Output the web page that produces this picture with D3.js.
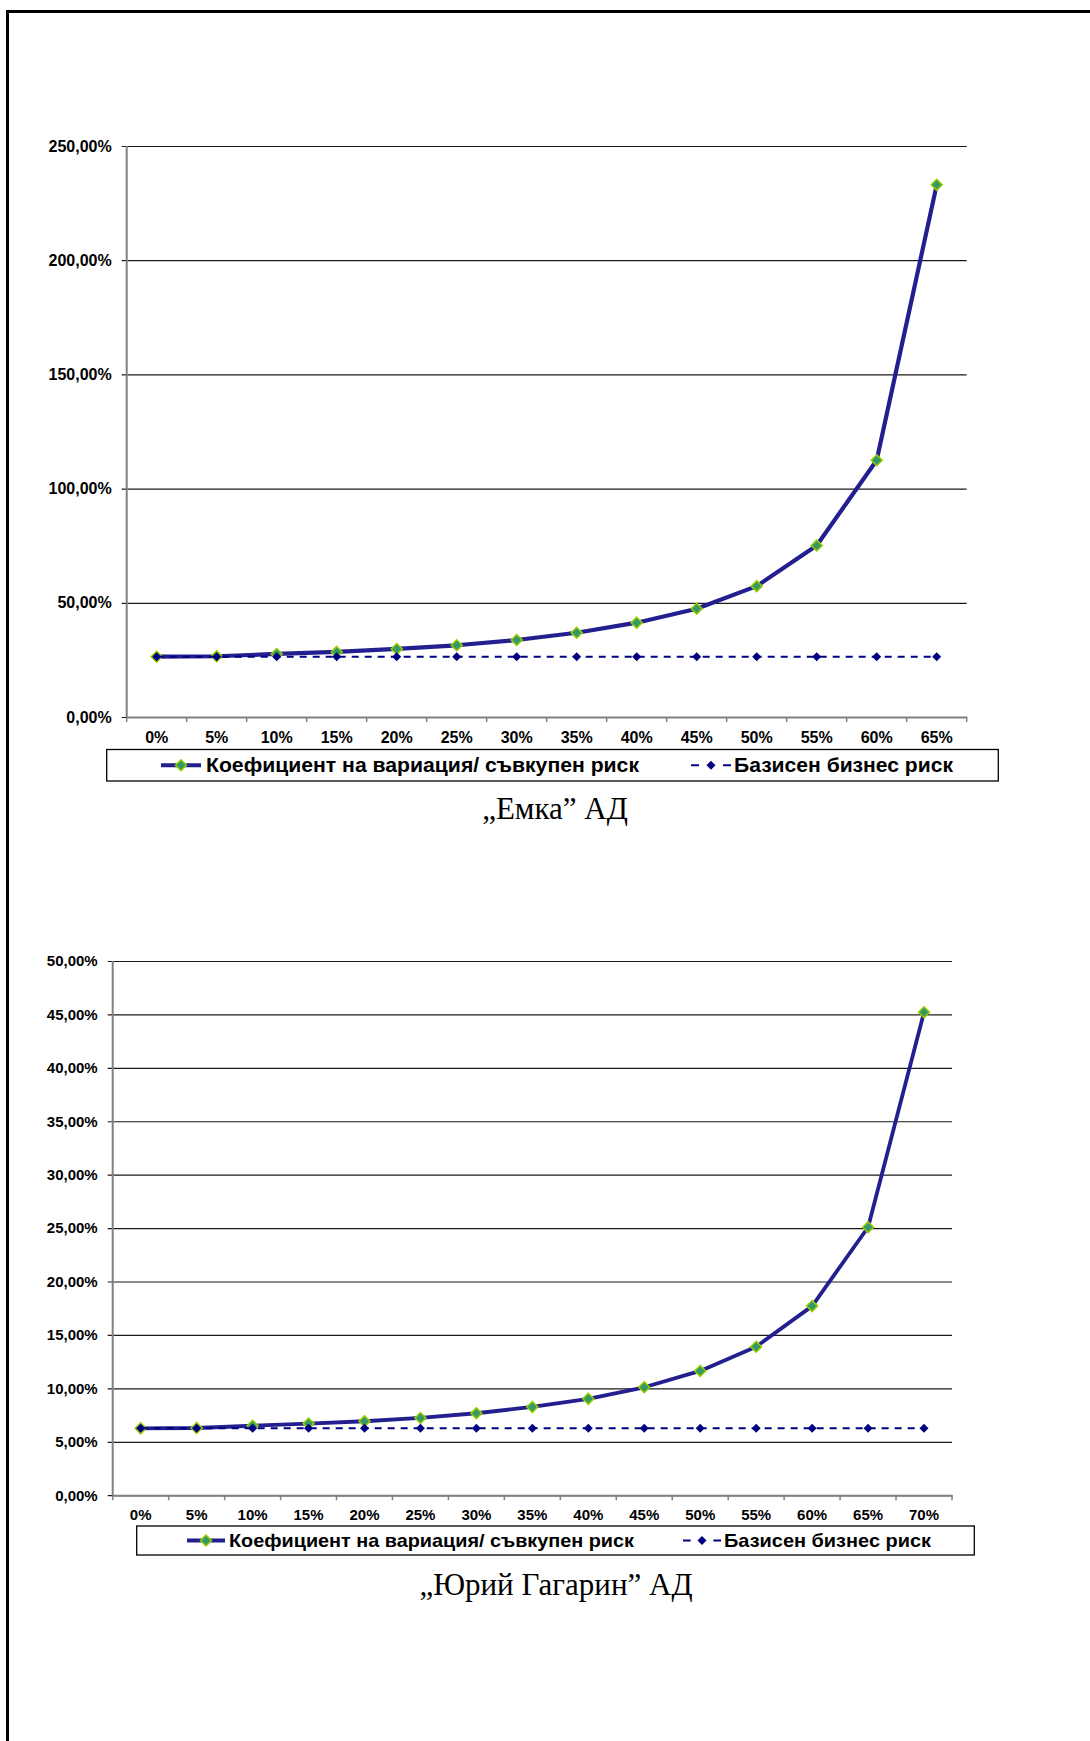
<!DOCTYPE html>
<html>
<head>
<meta charset="utf-8">
<script src="https://cdn.jsdelivr.net/npm/d3@7"></script>
<style>
  body { margin: 0; background: #fff; }
  svg { display: block; }
</style>
</head>
<body>
<svg id="page" width="1090" height="1741"></svg>
<script>
// data (values in %)
var catsEmka = ['0%', '5%', '10%', '15%', '20%', '25%', '30%', '35%', '40%', '45%', '50%', '55%', '60%', '65%'];
var coefEmka = [26.4, 26.6, 27.6, 28.5, 29.8, 31.4, 33.7, 36.9, 41.3, 47.4, 57.3, 75.1, 112.4, 233.0];
var basisEmka = [26.4, 26.4, 26.4, 26.4, 26.4, 26.4, 26.4, 26.4, 26.4, 26.4, 26.4, 26.4, 26.4, 26.4];
var ticksEmka = [0, 50, 100, 150, 200, 250];

var catsGagarin = ['0%', '5%', '10%', '15%', '20%', '25%', '30%', '35%', '40%', '45%', '50%', '55%', '60%', '65%', '70%'];
var coefGagarin = [6.26, 6.29, 6.5, 6.7, 6.92, 7.23, 7.67, 8.26, 9.02, 10.1, 11.63, 13.9, 17.7, 25.08, 45.2];
var basisGagarin = [6.26, 6.26, 6.26, 6.26, 6.26, 6.26, 6.26, 6.26, 6.26, 6.26, 6.26, 6.26, 6.26, 6.26, 6.26];
var ticksGagarin = [0, 5, 10, 15, 20, 25, 30, 35, 40, 45, 50];

var seriesNames = ['Коефициент на вариация/ съвкупен риск', 'Базисен бизнес риск'];

var locale = d3.formatLocale({ decimal: ',', thousands: ' ', grouping: [3], currency: ['', ''] });
var fmt = locale.format('.2f');

var svg = d3.select('#page');

// page frame (left and top rules)
svg.append('line').attr('x1', 7.5).attr('x2', 7.5).attr('y1', 10).attr('y2', 1741)
  .attr('stroke', '#000').attr('stroke-width', 3);
svg.append('line').attr('x1', 6).attr('x2', 1090).attr('y1', 11.5).attr('y2', 11.5)
  .attr('stroke', '#000').attr('stroke-width', 3);

function diamond(r) {
  return 'M0,' + (-r) + 'L' + r + ',0L0,' + r + 'L' + (-r) + ',0Z';
}

function drawChart(o) {
  var g = svg.append('g');

  var x = d3.scaleBand().domain(o.cats).range([o.left, o.right]);
  var y = d3.scaleLinear().domain([0, o.ticks[o.ticks.length - 1]]).range([o.bottom, o.top]);

  // gridlines + y labels
  var yAxis = d3.axisLeft(y).tickValues(o.ticks).tickSize(o.right - o.left + 5)
    .tickFormat(function (d) { return fmt(d) + '%'; }).tickPadding(10);
  var ya = g.append('g').attr('transform', 'translate(' + o.right + ',0)').call(yAxis);
  ya.select('.domain').remove();
  ya.selectAll('.tick line').attr('stroke', '#1a1a1a').attr('stroke-width', 1.2);
  ya.selectAll('.tick text')
    .attr('font-family', 'Liberation Sans, Arial, sans-serif')
    .attr('font-weight', 'bold').attr('font-size', o.fs).attr('fill', '#000');

  // vertical axis line
  g.append('line').attr('x1', o.left).attr('x2', o.left).attr('y1', o.top).attr('y2', o.bottom)
    .attr('stroke', '#808080').attr('stroke-width', 2);

  // category axis with ticks at band edges
  var xa = g.append('g').attr('transform', 'translate(0,' + o.bottom + ')')
    .call(d3.axisBottom(x).tickSize(0).tickPadding(o.labelPad));
  xa.select('.domain').attr('stroke', '#808080').attr('stroke-width', 2);
  xa.selectAll('.tick text')
    .attr('font-family', 'Liberation Sans, Arial, sans-serif')
    .attr('font-weight', 'bold').attr('font-size', o.fs).attr('fill', '#000');
  var edges = o.cats.map(function (c) { return x(c); }).concat([o.right]);
  g.selectAll('.xtick').data(edges).enter().append('line')
    .attr('x1', function (d) { return d; }).attr('x2', function (d) { return d; })
    .attr('y1', o.bottom).attr('y2', o.bottom + 5)
    .attr('stroke', '#808080').attr('stroke-width', 1.5);

  var cx = function (d, i) { return x(o.cats[i]) + x.bandwidth() / 2; };

  var line = d3.line().x(cx).y(function (d) { return y(d); });

  // total risk series
  g.append('path').datum(o.coef).attr('d', line)
    .attr('fill', 'none').attr('stroke', '#231f8f').attr('stroke-width', o.lw)
    .attr('stroke-linejoin', 'round');
  g.selectAll('.mc').data(o.coef).enter().append('path')
    .attr('d', diamond(5.5))
    .attr('transform', function (d, i) { return 'translate(' + cx(d, i) + ',' + y(d) + ')'; })
    .attr('fill', '#339966').attr('stroke', '#99cc00').attr('stroke-width', 1.5);

  // basic business risk series
  g.append('path').datum(o.basis).attr('d', line)
    .attr('fill', 'none').attr('stroke', '#000080').attr('stroke-width', 2)
    .attr('stroke-dasharray', '7,6');
  g.selectAll('.mb').data(o.basis).enter().append('path')
    .attr('d', diamond(4.5))
    .attr('transform', function (d, i) { return 'translate(' + cx(d, i) + ',' + y(d) + ')'; })
    .attr('fill', '#000080');

  // legend
  var lg = g.append('g');
  lg.append('rect').attr('x', o.leg.x0).attr('y', o.leg.y0)
    .attr('width', o.leg.x1 - o.leg.x0).attr('height', o.leg.y1 - o.leg.y0)
    .attr('fill', '#fff').attr('stroke', '#000').attr('stroke-width', 1.3);
  var ly = (o.leg.y0 + o.leg.y1) / 2;
  lg.append('line').attr('x1', o.leg.s1).attr('x2', o.leg.s1 + o.leg.sw).attr('y1', ly).attr('y2', ly)
    .attr('stroke', '#231f8f').attr('stroke-width', o.lw);
  lg.append('path').attr('d', diamond(5.5))
    .attr('transform', 'translate(' + (o.leg.s1 + o.leg.sw / 2) + ',' + ly + ')')
    .attr('fill', '#339966').attr('stroke', '#99cc00').attr('stroke-width', 1.5);
  var dash = o.leg.sw * 0.2;
  lg.append('line').attr('x1', o.leg.s2).attr('x2', o.leg.s2 + o.leg.sw).attr('y1', ly).attr('y2', ly)
    .attr('stroke', '#000080').attr('stroke-width', 2)
    .attr('stroke-dasharray', dash + ',' + (o.leg.sw - 2 * dash) + ',' + dash);
  lg.append('path').attr('d', diamond(4.5))
    .attr('transform', 'translate(' + (o.leg.s2 + o.leg.sw / 2) + ',' + ly + ')')
    .attr('fill', '#000080');
  [[o.leg.t1, o.leg.w1, seriesNames[0]], [o.leg.t2, o.leg.w2, seriesNames[1]]].forEach(function (e) {
    lg.append('text').attr('x', e[0]).attr('y', ly).attr('dy', '0.35em')
      .attr('font-family', 'Liberation Sans, Arial, sans-serif')
      .attr('font-weight', 'bold').attr('font-size', o.lfs)
      .attr('textLength', e[1]).attr('lengthAdjust', 'spacingAndGlyphs')
      .text(e[2]);
  });

  // caption under the chart
  g.append('text').attr('x', o.titleX).attr('y', o.titleY).attr('text-anchor', 'middle')
    .attr('font-family', 'Liberation Serif, Times New Roman, serif')
    .attr('font-size', 31).attr('fill', '#000')
    .text(o.title);
}

drawChart({
  cats: catsEmka, coef: coefEmka, basis: basisEmka, ticks: ticksEmka,
  left: 126.7, right: 966.7, top: 146, bottom: 717,
  fs: 16, lfs: 20, lw: 4.2, labelPad: 15,
  leg: { x0: 106.7, x1: 998.3, y0: 749.5, y1: 781, s1: 161, s2: 691, sw: 40, t1: 206, w1: 433, t2: 734, w2: 219 },
  title: '„Емка” АД', titleX: 555, titleY: 819
});

drawChart({
  cats: catsGagarin, coef: coefGagarin, basis: basisGagarin, ticks: ticksGagarin,
  left: 112.7, right: 952, top: 961, bottom: 1495.2,
  fs: 15, lfs: 19, lw: 3.8, labelPad: 14,
  leg: { x0: 136.7, x1: 974.3, y0: 1526, y1: 1555, s1: 187, s2: 683, sw: 38, t1: 229, w1: 405, t2: 724, w2: 207 },
  title: '„Юрий Гагарин” АД', titleX: 556, titleY: 1595
});
</script>
</body>
</html>
